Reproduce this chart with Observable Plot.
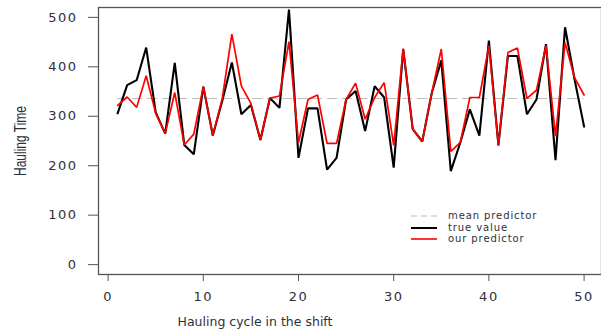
<!DOCTYPE html>
<html>
<head>
<meta charset="utf-8">
<script src="https://cdn.jsdelivr.net/npm/d3@7"></script>
<script src="https://cdn.jsdelivr.net/npm/@observablehq/plot@0.6"></script>
<style>
  html, body { margin: 0; padding: 0; background: #fff; }
  #wrap { position: relative; width: 601px; height: 335px; overflow: hidden; }
  .ov { position: absolute; white-space: nowrap; color: #2f2f3a; }
  #xtitle { left: 255px; top: 314px; font: 12.5px "DejaVu Sans", sans-serif; transform: translateX(-50%); }
  #ytitle { left: 21px; top: 141px; font: 12px "Liberation Sans", Arial, sans-serif; transform: translate(-50%, -50%) rotate(-90deg) scaleY(1.35); }
  #legend { left: 411px; top: 210px; font: 10px "DejaVu Sans", sans-serif; letter-spacing: 0.9px; }
  #legend .row { display: flex; align-items: center; height: 11.7px; }
  #legend .row span { display: block; line-height: 11.7px; }
  #legend svg { margin-right: 11px; }
</style>
</head>
<body>
<div id="wrap">
  <div id="chart"></div>
  <div class="ov" id="xtitle"></div>
  <div class="ov" id="ytitle"></div>
  <div class="ov" id="legend"></div>
</div>
<script>
const cycle = [1,2,3,4,5,6,7,8,9,10,11,12,13,14,15,16,17,18,19,20,21,22,23,24,25,26,27,28,29,30,31,32,33,34,35,36,37,38,39,40,41,42,43,44,45,46,47,48,49,50];
const trueValue = [306,363,373,439,308,265,408,242,223,360,261,332,409,304,323,252,337,317,516,216,316,316,192,216,334,351,270,361,338,196,436,274,249,347,413,189,247,314,261,453,241,422,422,304,334,446,211,480,375,279];
const ourPredictor = [322,339,318,382,306,265,348,242,264,360,261,337,466,361,326,252,337,341,451,247,334,343,245,245,334,367,294,338,368,241,437,274,249,347,436,229,247,338,338,443,241,429,438,336,353,443,260,449,378,343];
const meanPredictor = 336;
const xTicks = [0,10,20,30,40,50];
const yTicks = [0,100,200,300,400,500];
const xTitle = "Hauling cycle in the shift";
const yTitle = "Hauling Time";
const legendItems = [
  {label: "mean predictor", color: "#bdbdbd", dash: "6,4", width: 1.2},
  {label: "true value", color: "#000000", dash: null, width: 2},
  {label: "our predictor", color: "#ff0000", dash: null, width: 1.6}
];

const rows = cycle.map((c, i) => ({cycle: c, truth: trueValue[i], pred: ourPredictor[i]}));

const chart = Plot.plot({
  width: 601,
  height: 335,
  marginLeft: 98,
  marginRight: 0,
  marginTop: 7,
  marginBottom: 61,
  style: {fontFamily: "DejaVu Sans, sans-serif", fontSize: "13px", color: "#333", background: "#fff"},
  x: {domain: [-1.01, 51.83]},
  y: {domain: [-20, 520]},
  marks: [
    Plot.ruleY([meanPredictor], {x1: cycle[0], x2: cycle[cycle.length - 1], stroke: "#bdbdbd", strokeWidth: 1.2, strokeDasharray: "10,5"}),
    Plot.line(rows, {x: "cycle", y: "truth", stroke: "#000", strokeWidth: 2.1, strokeLinejoin: "miter"}),
    Plot.line(rows, {x: "cycle", y: "pred", stroke: "#ff0000", strokeWidth: 1.7, strokeLinejoin: "miter"}),
    Plot.frame({stroke: "#555", strokeWidth: 1.3}),
    Plot.axisY(yTicks, {tickSize: 10, tickPadding: 11, stroke: "#555", fill: "#2f2f3a", fontSize: 13, label: null}),
    Plot.axisX(xTicks, {tickSize: 7, tickPadding: 10, stroke: "#555", fill: "#2f2f3a", fontSize: 13, label: null})
  ]
});
document.getElementById("chart").appendChild(chart);
chart.querySelectorAll("text").forEach(t => t.setAttribute("letter-spacing", "1.5px"));

document.getElementById("xtitle").textContent = xTitle;
document.getElementById("ytitle").textContent = yTitle;

const leg = document.getElementById("legend");
legendItems.forEach(it => {
  const row = document.createElement("div");
  row.className = "row";
  const ns = "http://www.w3.org/2000/svg";
  const s = document.createElementNS(ns, "svg");
  s.setAttribute("width", 26); s.setAttribute("height", 6);
  const l = document.createElementNS(ns, "line");
  l.setAttribute("x1", 0); l.setAttribute("x2", 26); l.setAttribute("y1", 3); l.setAttribute("y2", 3);
  l.setAttribute("stroke", it.color); l.setAttribute("stroke-width", it.width);
  if (it.dash) l.setAttribute("stroke-dasharray", it.dash);
  s.appendChild(l);
  row.appendChild(s);
  const span = document.createElement("span");
  span.textContent = it.label;
  row.appendChild(span);
  leg.appendChild(row);
});
</script>
</body>
</html>
